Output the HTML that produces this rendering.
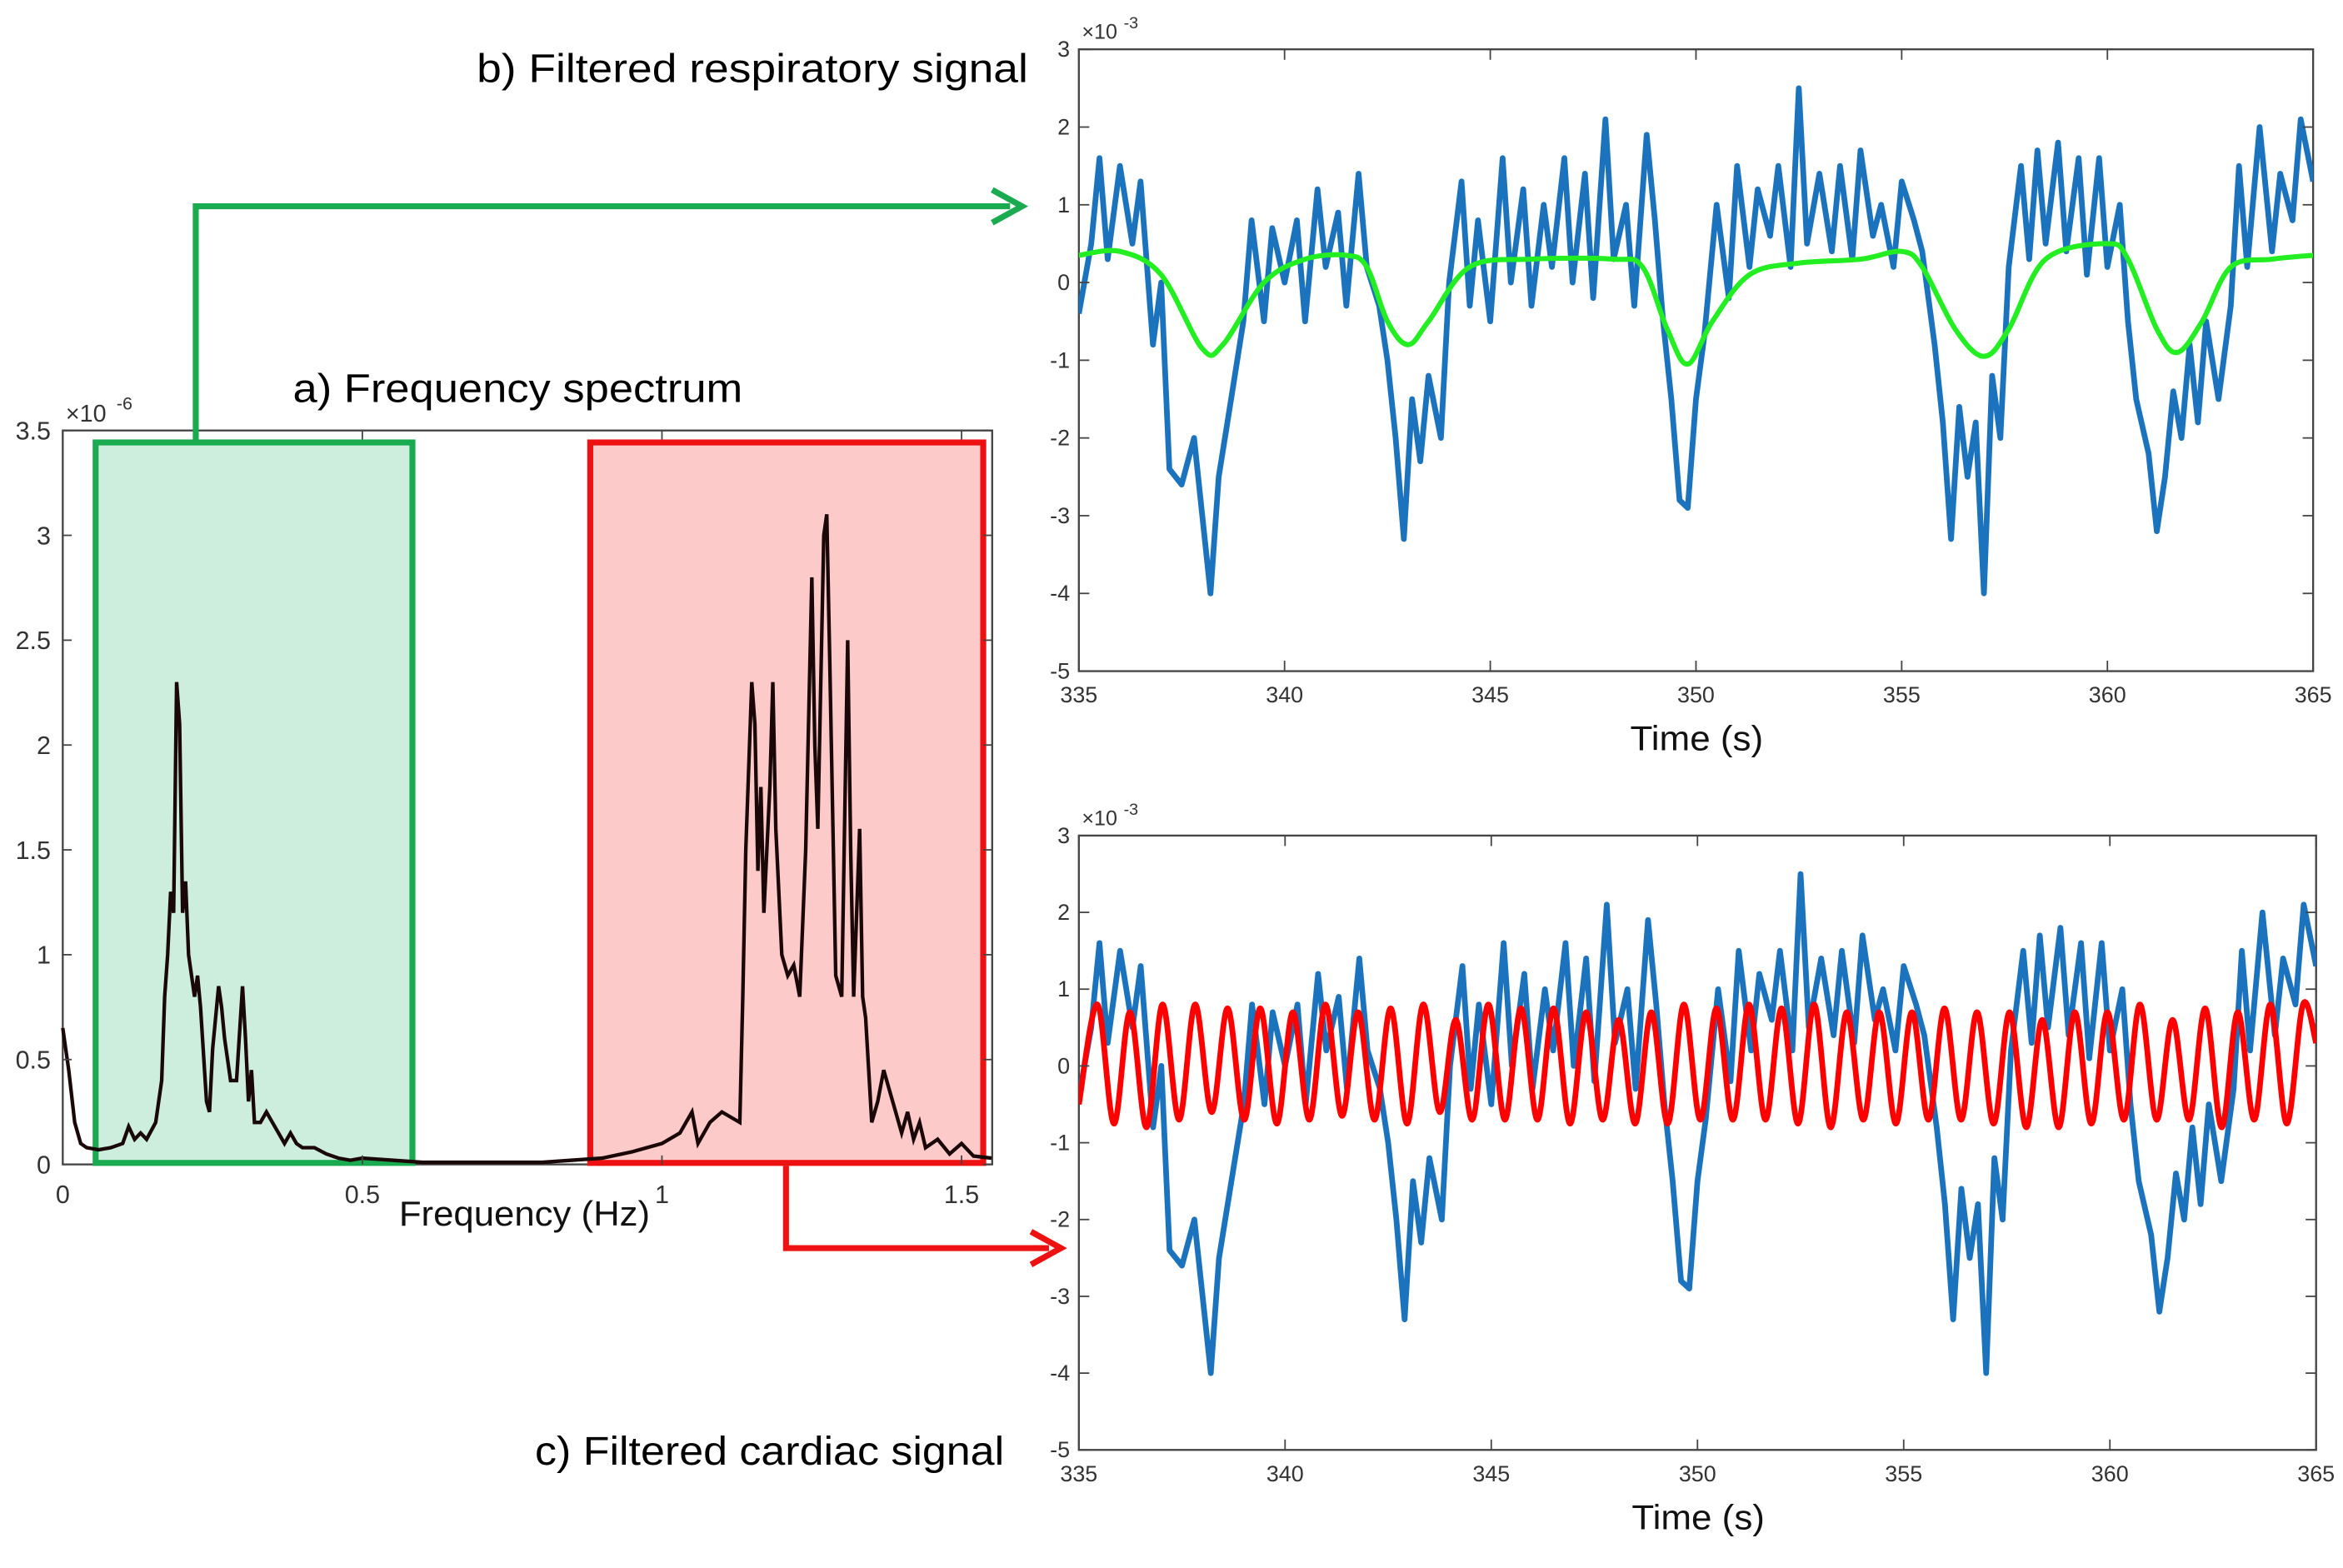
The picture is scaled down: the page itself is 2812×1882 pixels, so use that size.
<!DOCTYPE html>
<html><head><meta charset="utf-8"><style>
html,body{margin:0;padding:0;background:#fff;}
svg{display:block;font-family:"Liberation Sans",sans-serif;}
</style></head><body>
<svg id="fig" width="2812" height="1882" viewBox="0 0 1568 1049" preserveAspectRatio="none" xmlns="http://www.w3.org/2000/svg">
<rect x="0" y="0" width="1568" height="1049" fill="#fff"/>
<g id="spec"></g>
<g id="top"></g>
<g id="bot"></g>
<g id="ann">
  <text x="196" y="269" font-size="27" textLength="301" lengthAdjust="spacingAndGlyphs">a) Frequency spectrum</text>
  <text x="319" y="55" font-size="27" textLength="369" lengthAdjust="spacingAndGlyphs">b) Filtered respiratory signal</text>
  <text x="358" y="980" font-size="27" textLength="314" lengthAdjust="spacingAndGlyphs">c) Filtered cardiac signal</text>
  <polyline points="131,296 131,138 676,138" fill="none" stroke="#1aaa50" stroke-width="4"/>
  <polyline points="664,127 684,138 664,149" fill="none" stroke="#1aaa50" stroke-width="4"/>
  <polyline points="526,780 526,835 702,835" fill="none" stroke="#ee1111" stroke-width="4"/>
  <polyline points="690,824 710,835 690,846" fill="none" stroke="#ee1111" stroke-width="4"/>
</g>
</svg>
<script>
const NS='http://www.w3.org/2000/svg';
// ---- spectrum data (x1e-6) ----
const specFreq=[0,0.01,0.02,0.03,0.04,0.06,0.08,0.1,0.11,0.12,0.13,0.14,0.155,0.165,0.17,0.175,0.18,0.185,0.19,0.195,0.2,0.205,0.21,0.22,0.225,0.23,0.24,0.245,0.25,0.26,0.265,0.27,0.28,0.29,0.3,0.305,0.31,0.315,0.32,0.33,0.34,0.35,0.36,0.37,0.38,0.39,0.4,0.42,0.44,0.46,0.48,0.5,0.55,0.6,0.7,0.8,0.85,0.9,0.95,1.0,1.03,1.05,1.06,1.08,1.1,1.13,1.135,1.14,1.15,1.155,1.16,1.165,1.17,1.18,1.185,1.19,1.2,1.21,1.22,1.23,1.24,1.25,1.255,1.26,1.27,1.275,1.28,1.29,1.3,1.31,1.315,1.32,1.33,1.335,1.34,1.35,1.36,1.37,1.38,1.39,1.4,1.41,1.42,1.43,1.44,1.46,1.48,1.5,1.52,1.55];
const specVal=[0.65,0.45,0.2,0.1,0.08,0.07,0.08,0.1,0.18,0.12,0.15,0.12,0.2,0.4,0.8,1.0,1.3,1.2,2.3,2.1,1.2,1.35,1.0,0.8,0.9,0.75,0.3,0.25,0.55,0.85,0.75,0.6,0.4,0.4,0.85,0.6,0.3,0.45,0.2,0.2,0.25,0.2,0.15,0.1,0.15,0.1,0.08,0.08,0.05,0.03,0.02,0.03,0.02,0.01,0.01,0.01,0.02,0.03,0.06,0.1,0.15,0.25,0.1,0.2,0.25,0.2,0.8,1.5,2.3,2.1,1.4,1.8,1.2,1.8,2.3,1.6,1.0,0.9,0.95,0.8,1.5,2.8,2.0,1.6,3.0,3.1,2.4,0.9,0.8,2.5,1.5,0.8,1.6,0.8,0.7,0.2,0.3,0.45,0.35,0.25,0.15,0.25,0.12,0.2,0.08,0.12,0.05,0.1,0.04,0.03];
const specXTicks=[0,0.5,1,1.5];
const specXLabels=['0','0.5','1','1.5'];
const specYTicks=[0,0.5,1,1.5,2,2.5,3,3.5];
const specYLabels=['0','0.5','1','1.5','2','2.5','3','3.5'];
// ---- time series data (x1e-3) ----
const blueTime=[335,335.3,335.5,335.7,336,336.3,336.5,336.8,337,337.2,337.5,337.8,338,338.2,338.4,338.7,339,339.2,339.5,339.7,340,340.3,340.5,340.8,341,341.3,341.5,341.8,342,342.3,342.5,342.7,342.9,343.1,343.3,343.5,343.8,344,344.3,344.5,344.7,345,345.3,345.5,345.8,346,346.3,346.5,346.8,347,347.3,347.5,347.8,348,348.3,348.5,348.8,349,349.2,349.4,349.6,349.8,350,350.2,350.5,350.8,351,351.3,351.5,351.8,352,352.3,352.5,352.7,353,353.3,353.5,353.8,354,354.3,354.5,354.8,355,355.3,355.5,355.8,356,356.2,356.4,356.6,356.8,357,357.2,357.4,357.6,357.9,358.1,358.3,358.5,358.8,359,359.3,359.5,359.8,360,360.3,360.5,360.7,361,361.2,361.4,361.6,361.8,362,362.2,362.4,362.7,363,363.2,363.4,363.7,364,364.2,364.5,364.7,365];
const blueVal=[-0.4,0.5,1.6,0.3,1.5,0.5,1.3,-0.8,0,-2.4,-2.6,-2.0,-3.0,-4.0,-2.5,-1.5,-0.5,0.8,-0.5,0.7,0,0.8,-0.5,1.2,0.2,0.9,-0.3,1.4,0.2,-0.3,-1.0,-2.0,-3.3,-1.5,-2.3,-1.2,-2.0,0,1.3,-0.3,0.8,-0.5,1.6,0,1.2,-0.3,1.0,0.2,1.6,0,1.4,-0.2,2.1,0.3,1.0,-0.3,1.9,0.8,-0.5,-1.5,-2.8,-2.9,-1.5,-0.7,1.0,-0.2,1.5,0.2,1.2,0.6,1.5,0.2,2.5,0.5,1.4,0.4,1.5,0.3,1.7,0.6,1.0,0.2,1.3,0.8,0.4,-0.8,-1.8,-3.3,-1.6,-2.5,-1.8,-4.0,-1.2,-2.0,0.2,1.5,0.3,1.7,0.5,1.8,0.4,1.6,0.1,1.6,0.2,1.0,-0.5,-1.5,-2.2,-3.2,-2.5,-1.4,-2.0,-0.8,-1.8,-0.5,-1.5,-0.3,1.5,0.2,2.0,0.4,1.4,0.8,2.1,1.3];
const greenTime=[335,336,337,338,338.5,339.5,340.5,341.5,342,342.5,343,343.5,344.5,346,348,348.7,349.3,349.8,350.4,351.3,352.5,354,355,355.5,356.3,357,357.6,358.5,360,360.5,361.2,361.7,362.3,363,364,365];
const greenVal=[0.35,0.4,0.1,-0.85,-0.8,0,0.3,0.35,0.2,-0.5,-0.8,-0.5,0.2,0.3,0.3,0.2,-0.6,-1.05,-0.5,0.1,0.25,0.3,0.4,0.2,-0.6,-0.95,-0.6,0.3,0.5,0.3,-0.6,-0.9,-0.5,0.2,0.3,0.35];
const redTime=[335,335.45,335.85,336.24,336.64,337.03,337.43,337.82,338.22,338.61,339.01,339.4,339.8,340.19,340.59,340.98,341.38,341.77,342.17,342.56,342.96,343.35,343.75,344.14,344.54,344.93,345.33,345.72,346.12,346.51,346.91,347.3,347.7,348.09,348.49,348.88,349.28,349.67,350.07,350.46,350.86,351.25,351.65,352.04,352.44,352.83,353.23,353.62,354.02,354.41,354.81,355.2,355.6,355.99,356.39,356.78,357.18,357.57,357.97,358.36,358.76,359.15,359.55,359.94,360.34,360.73,361.13,361.52,361.92,362.31,362.71,363.1,363.5,363.89,364.29,364.68,365];
const redVal=[-0.5,0.8,-0.75,0.7,-0.8,0.8,-0.7,0.8,-0.6,0.75,-0.7,0.75,-0.75,0.7,-0.7,0.8,-0.65,0.7,-0.7,0.75,-0.75,0.8,-0.6,0.6,-0.7,0.8,-0.7,0.75,-0.7,0.75,-0.75,0.7,-0.7,0.6,-0.75,0.7,-0.75,0.8,-0.7,0.75,-0.7,0.8,-0.7,0.75,-0.75,0.8,-0.8,0.7,-0.7,0.7,-0.75,0.7,-0.7,0.75,-0.7,0.7,-0.75,0.7,-0.8,0.6,-0.8,0.7,-0.75,0.7,-0.7,0.8,-0.7,0.6,-0.7,0.75,-0.8,0.7,-0.7,0.8,-0.75,0.8,0.3];
const timeTicks=[335,340,345,350,355,360,365];
const timeLabels=['335','340','345','350','355','360','365'];
const sigTicks=[-5,-4,-3,-2,-1,0,1,2,3];
const sigLabels=['-5','-4','-3','-2','-1','0','1','2','3'];

function mk(tag,attrs,parent){const e=document.createElementNS(NS,tag);for(const k in attrs)e.setAttribute(k,attrs[k]);parent.appendChild(e);return e;}
function lin(d0,d1,r0,r1){return v=>r0+(v-d0)/(d1-d0)*(r1-r0);}
function smoothPath(P){
  let d='M'+P[0][0].toFixed(1)+','+P[0][1].toFixed(1);
  for(let i=0;i<P.length-1;i++){
    const p0=P[Math.max(0,i-1)],p1=P[i],p2=P[i+1],p3=P[Math.min(P.length-1,i+2)];
    const c1x=p1[0]+(p2[0]-p0[0])/6,c1y=p1[1]+(p2[1]-p0[1])/6;
    const c2x=p2[0]-(p3[0]-p1[0])/6,c2y=p2[1]-(p3[1]-p1[1])/6;
    d+=' C'+c1x.toFixed(1)+','+c1y.toFixed(1)+' '+c2x.toFixed(1)+','+c2y.toFixed(1)+' '+p2[0].toFixed(1)+','+p2[1].toFixed(1);
  }
  return d;
}

// ---------- spectrum ----------
(function(){
  const g=document.getElementById('spec');
  const L=42,R=664,T=288,B=779;
  const x=lin(0,1,42,443), y=lin(0,3.5,779,288);
  let r=mk('rect',{x:L,y:T,width:R-L,height:B-T,fill:'#fff',stroke:'#444','stroke-width':1.3},g);
  
  
  let gb=mk('rect',{x:64,y:296,width:212,height:482,fill:'#cdeedc',stroke:'#1aaa50','stroke-width':4},g);
  
  
  let rb=mk('rect',{x:395,y:296,width:263,height:482,fill:'#fdcaca',stroke:'#ee1111','stroke-width':4},g);
  
  
  let pts=specFreq.map((f,i)=>x(f).toFixed(1)+','+y(specVal[i]).toFixed(1)).join(' ');
  let pl=mk('polyline',{points:pts,fill:'none',stroke:'#1a0808','stroke-width':2.4,'stroke-linejoin':'miter'},g);
  
  
  specYTicks.forEach((v,i)=>{
    mk('line',{x1:L,x2:L+6,y1:y(v),y2:y(v),stroke:'#444','stroke-width':1},g);
    mk('line',{x1:R,x2:R-6,y1:y(v),y2:y(v),stroke:'#444','stroke-width':1},g);
    let t=mk('text',{x:34,y:y(v)+6,'font-size':17,fill:'#333','text-anchor':'end'},g);
    t.textContent=specYLabels[i];
    
    
  });
  specXTicks.forEach((v,i)=>{
    mk('line',{x1:x(v),x2:x(v),y1:B,y2:B-6,stroke:'#444','stroke-width':1},g);
    mk('line',{x1:x(v),x2:x(v),y1:T,y2:T+6,stroke:'#444','stroke-width':1},g);
    let t=mk('text',{x:x(v),y:805,'font-size':17,fill:'#333','text-anchor':'middle'},g);
    t.textContent=specXLabels[i];
    
    
  });
  let e=mk('text',{x:44,y:282,'font-size':16,fill:'#333'},g);
  e.textContent='×10';
  
  
  let e2=mk('text',{x:78,y:274,'font-size':12,fill:'#333'},g);
  e2.textContent='-6';
  
  
  let xl=mk('text',{x:267,y:820,'font-size':23,fill:'#111',textLength:168,lengthAdjust:'spacingAndGlyphs'},g);
  xl.textContent='Frequency (Hz)';
  
  
})();

// ---------- time panels ----------
function panel(id,T,B,R,series){
  const g=document.getElementById(id);
  const L=722;
  const x=lin(335,365,L,R), y=lin(-5,3,B,T);
  let r=mk('rect',{x:L,y:T,width:R-L,height:B-T,fill:'#fff',stroke:'#444','stroke-width':1.3},g);
  
  
  let cp='clip-'+id;
  let c=mk('clipPath',{id:cp},g);
  mk('rect',{x:L,y:T,width:R-L,height:B-T},c);
  series.forEach(s=>{
    const P=s.t.map((tv,i)=>[x(tv),y(s.v[i])]);
    let el;
    if(s.smooth){
      el=mk('path',{d:smoothPath(P),fill:'none',stroke:s.c,'stroke-width':s.w,'clip-path':'url(#'+cp+')'},g);
    } else {
      el=mk('polyline',{points:P.map(p=>p[0].toFixed(1)+','+p[1].toFixed(1)).join(' '),fill:'none',stroke:s.c,'stroke-width':s.w,'stroke-linejoin':'round','clip-path':'url(#'+cp+')'},g);
    }
    
    
  });
  sigTicks.forEach((v,i)=>{
    mk('line',{x1:L,x2:L+7,y1:y(v),y2:y(v),stroke:'#444','stroke-width':1},g);
    mk('line',{x1:R,x2:R-7,y1:y(v),y2:y(v),stroke:'#444','stroke-width':1},g);
    let t=mk('text',{x:716,y:y(v)+5,'font-size':15,fill:'#333','text-anchor':'end'},g);
    t.textContent=sigLabels[i];
    
    
  });
  timeTicks.forEach((v,i)=>{
    mk('line',{x1:x(v),x2:x(v),y1:B,y2:B-7,stroke:'#444','stroke-width':1},g);
    mk('line',{x1:x(v),x2:x(v),y1:T,y2:T+7,stroke:'#444','stroke-width':1},g);
    let t=mk('text',{x:x(v),y:B+21,'font-size':15,fill:'#333','text-anchor':'middle'},g);
    t.textContent=timeLabels[i];
    
    
  });
  let e=mk('text',{x:724,y:T-7,'font-size':14,fill:'#333'},g);
  e.textContent='×10';
  
  
  let e2=mk('text',{x:752,y:T-14,'font-size':11,fill:'#333'},g);
  e2.textContent='-3';
  
  
  let xl=mk('text',{x:(L+R)/2-44,y:B+53,'font-size':23,fill:'#111',textLength:89,lengthAdjust:'spacingAndGlyphs'},g);
  xl.textContent='Time (s)';
  
  
}
panel('top',33,449,1548,[
  {t:blueTime,v:blueVal,c:'#1b72bd',w:3.8,n:'raw-signal-line'},
  {t:greenTime,v:greenVal,c:'#22ee22',w:3.4,n:'respiratory-filtered-line',smooth:true}
]);
panel('bot',559,970,1550,[
  {t:blueTime,v:blueVal,c:'#1b72bd',w:3.8,n:'raw-signal-line'},
  {t:redTime,v:redVal,c:'#ff0000',w:3.8,n:'cardiac-filtered-line',smooth:true}
]);
</script>
</body></html>
